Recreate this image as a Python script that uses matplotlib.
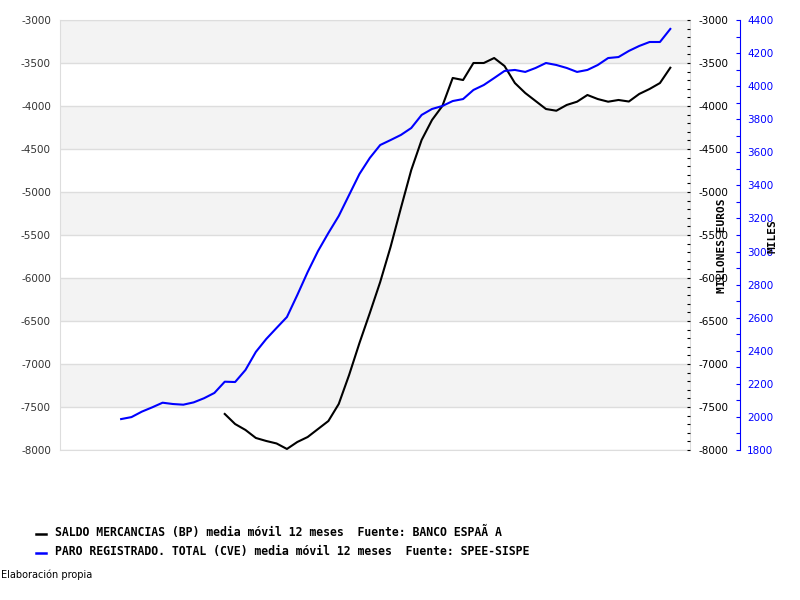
import matplotlib
matplotlib.use("Agg")
import matplotlib.pyplot as plt
from matplotlib.lines import Line2D
from matplotlib.ticker import MultipleLocator
import numpy as np

plt.rcParams['axes.unicode_minus'] = False

# Data (index = period, 53 steps across the chart)
paro_idx = list(range(0, 54))
paro_miles = [1987, 1999, 2032, 2058, 2086, 2078, 2074, 2088, 2113, 2145,
              2213, 2211, 2284, 2393, 2471, 2538, 2604, 2737, 2876, 3003,
              3112, 3215, 3342, 3469, 3566, 3644, 3674, 3705, 3747, 3826,
              3862, 3880, 3910, 3922, 3977, 4007, 4049, 4092, 4098, 4086,
              4110, 4140, 4128, 4110, 4086, 4098, 4128, 4170, 4176, 4213,
              4243, 4267, 4267, 4346]

saldo_idx = list(range(10, 54))
saldo_meur = [-7581, -7698, -7767, -7860, -7895, -7924, -7988, -7907, -7849, -7756,
              -7663, -7465, -7128, -6756, -6407, -6047, -5640, -5186, -4744, -4395,
              -4163, -4000, -3674, -3698, -3500, -3500, -3442, -3535, -3733, -3849,
              -3942, -4035, -4055, -3988, -3950, -3872, -3919, -3950, -3930, -3948,
              -3860, -3802, -3733, -3555]

left_range = (-8000, -3000)
right_range = (1800, 4400)
legend_labels = [
    "SALDO MERCANCIAS (BP) media m\u00f3vil 12 meses  Fuente: BANCO ESPA\u00c3 A",
    "PARO REGISTRADO. TOTAL (CVE) media m\u00f3vil 12 meses  Fuente: SPEE-SISPE",
]
legend_colors = ['black', 'blue']

fig = plt.figure(figsize=(8, 6), dpi=100)
ax = fig.add_axes([60 / 800, 150 / 600, 630 / 800, 430 / 600])

# Alternating bands and grid lines
levels = np.arange(left_range[0], left_range[1] + 1, 500)
for k, lo in enumerate(levels[:-1]):
    if k % 2 == 1:
        ax.axhspan(lo, lo + 500, color='#f3f3f3', zorder=0, lw=0)
for lv in levels:
    ax.axhline(lv, color='#dddddd', lw=1, zorder=1)

ax.plot(saldo_idx, saldo_meur, color='black', lw=1.5, zorder=3)
ax.set_xlim(-5.9, 54.9)
ax.set_ylim(*left_range)
ax.set_yticks(levels)
ax.tick_params(axis='y', length=0, pad=6.5, labelsize=7.5, labelcolor='#333333')
ax.set_xticks([])
for s in ax.spines.values():
    s.set_color('#dddddd')

# Right copy of the left axis, with inward ticks
ax2 = ax.twinx()
ax2.set_ylim(*left_range)
ax2.set_yticks(levels)
ax2.yaxis.set_minor_locator(MultipleLocator(100))
ax2.tick_params(axis='y', which='both', direction='in', length=2.5, width=0.8,
                pad=5.8, labelsize=7.5, colors='black')
for s in ax2.spines.values():
    s.set_visible(False)

# Blue axis for unemployment
ax3 = ax.twinx()
ax3.plot(paro_idx, paro_miles, color='blue', lw=1.5)
ax3.set_ylim(*right_range)
ax3.set_yticks(np.arange(right_range[0], right_range[1] + 1, 200))
ax3.yaxis.set_minor_locator(MultipleLocator(100))
ax3.spines['right'].set_position(('axes', 680 / 630))
ax3.spines['right'].set_color('blue')
for name in ['left', 'top', 'bottom']:
    ax3.spines[name].set_visible(False)
ax3.tick_params(axis='y', which='both', direction='in', length=3, width=0.8,
                pad=5, labelsize=7.5, colors='blue')

# Axis titles
fig.text(722 / 800, 1 - 246 / 600, "MILLONES EUROS", rotation=90, ha='center', va='center',
         family='DejaVu Sans Mono', weight='bold', fontsize=8)
fig.text(773 / 800, 1 - 236 / 600, "MILES", rotation=90, ha='center', va='center',
         family='DejaVu Sans Mono', weight='bold', fontsize=8)

# Legend
for k, (lab, col) in enumerate(zip(legend_labels, legend_colors)):
    y = 1 - (534 + 18.5 * k) / 600
    fig.add_artist(Line2D([36 / 800, 46 / 800], [y, y], color=col, lw=1.8,
                          transform=fig.transFigure))
    fig.text(55 / 800, y + 0.002, lab, ha='left', va='center',
             family='DejaVu Sans Mono', weight='bold', fontsize=8.3)

fig.text(1 / 800, 1 - 575 / 600, "Elaboraci\u00f3n propia", ha='left', va='center', fontsize=7)

fig.savefig("out.png", dpi=100)
